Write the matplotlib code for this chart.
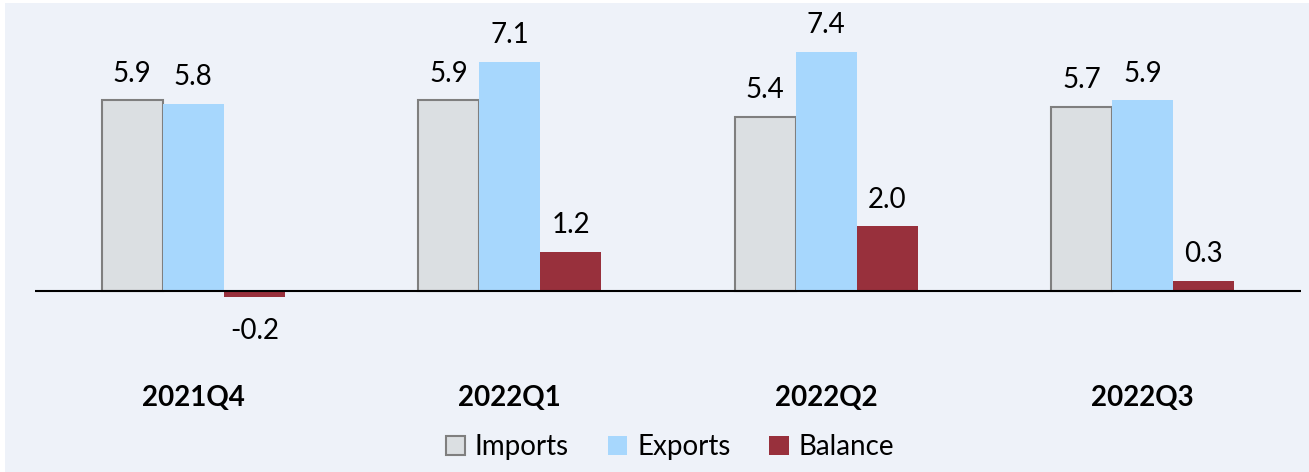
import matplotlib
matplotlib.use("Agg")
import matplotlib.pyplot as plt
from matplotlib.patches import Rectangle
import numpy as np

categories = ["2021Q4", "2022Q1", "2022Q2", "2022Q3"]
imports = [5.9, 5.9, 5.4, 5.7]
exports = [5.8, 7.1, 7.4, 5.9]
balance = [-0.2, 1.2, 2.0, 0.3]
series_names = ["Imports", "Exports", "Balance"]

plt.rcParams['font.family'] = ['Lato', 'DejaVu Sans']

W, H = 1309, 472
fig = plt.figure(figsize=(W / 100, H / 100), dpi=100, facecolor="white")

# background panel
bg = Rectangle((5 / W, 0), 1 - 5 / W, 1 - 3 / H, transform=fig.transFigure,
               facecolor="#EEF2F9", edgecolor="none", zorder=-10)
fig.patches.append(bg)

# axes placement in pixels
ax_left, ax_right = 35, 1301
ax_top, ax_bot = 10, 470
zero_y = 291
ppu = 32.3
ax = fig.add_axes([ax_left / W, 1 - ax_bot / H, (ax_right - ax_left) / W, (ax_bot - ax_top) / H])
ax.set_zorder(1)
ax.set_facecolor("none")
ax.set_ylim(-(ax_bot - zero_y) / ppu, (zero_y - ax_top) / ppu)
ax.set_xlim(-0.5, 3.5)

x = np.arange(len(categories))
w = 0.193
colors = ["#DBDFE2", "#A7D7FD", "#98303C"]
edges = ["#7F7F7F", "none", "none"]
data = [imports, exports, balance]
fs = 20
for i, (vals, c, e, name) in enumerate(zip(data, colors, edges, series_names)):
    pos = x + (i - 1) * w
    ax.bar(pos, vals, width=w, color=c, edgecolor=e, linewidth=1.5 if e != "none" else 0,
           label=name, zorder=2)
    for px, v in zip(pos, vals):
        if v >= 0:
            ax.annotate(f"{v:.1f}", (px, v), xytext=(0, 10), textcoords="offset points",
                        ha="center", va="bottom", fontsize=fs, color="black")
        else:
            ax.annotate(f"{v:.1f}", (px, v), xytext=(0, -15), textcoords="offset points",
                        ha="center", va="top", fontsize=fs, color="black")

ax.axhline(0, color="black", linewidth=1.5, zorder=3)

for xi, cat in zip(x, categories):
    ax.text(xi, -(398 - zero_y) / ppu, cat, ha="center", va="center",
            fontsize=fs, fontweight="bold", color="black")

for s in ax.spines.values():
    s.set_visible(False)
ax.set_xticks([])
ax.set_yticks([])

handles, labels = ax.get_legend_handles_labels()
fig.legend(handles, labels, loc="center", bbox_to_anchor=(670 / W, 1 - 447 / H),
           ncol=3, frameon=False, fontsize=fs, handlelength=0.7, handleheight=0.7,
           handletextpad=0.35, columnspacing=1.4)

fig.savefig("out.png", dpi=100, facecolor="white")
